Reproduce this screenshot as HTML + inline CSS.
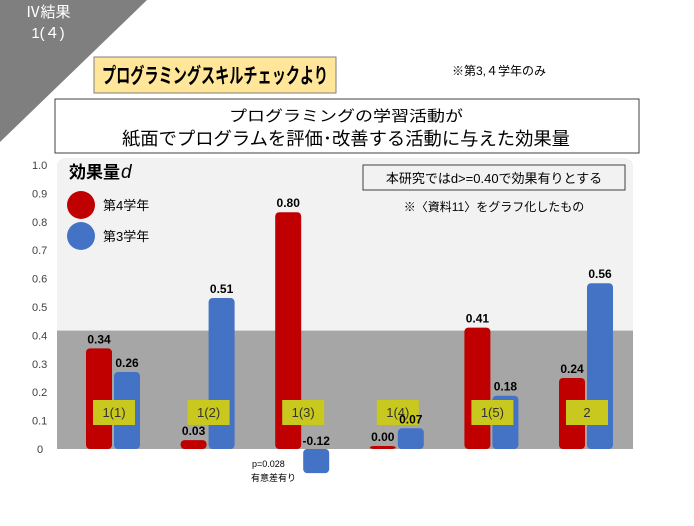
<!DOCTYPE html>
<html><head><meta charset="utf-8"><style>
body{margin:0;width:694px;height:521px;background:#fff;overflow:hidden;font-family:"Liberation Sans","Noto Sans CJK JP",sans-serif;}
svg text{font-family:"Liberation Sans","Noto Sans CJK JP",sans-serif;}
</style></head><body>
<svg width="694" height="521" viewBox="0 0 694 521">
<polygon points="0,0 147,0 0,142" fill="#7f7f7f"/>
<text x="48" y="17" font-size="15" fill="#fff" text-anchor="middle">Ⅳ結果</text>
<text x="48" y="38" font-size="15" fill="#fff" text-anchor="middle">1(４)</text>
<rect x="94" y="57" width="242" height="36" fill="#ffe699" stroke="#7f7f7f"/>
<text x="102" y="83" font-size="21" font-weight="bold" textLength="226" lengthAdjust="spacingAndGlyphs" fill="#000">プログラミングスキルチェックより</text>
<text x="452" y="75" font-size="12" fill="#000">※第3,４学年のみ</text>
<rect x="55" y="99" width="584" height="54" fill="#fff" stroke="#404040"/>
<text x="229" y="121" font-size="15" textLength="234" lengthAdjust="spacingAndGlyphs">プログラミングの学習活動が</text>
<text x="122" y="145" font-size="18" textLength="448" lengthAdjust="spacingAndGlyphs">紙面でプログラムを評価･改善する活動に与えた効果量</text>
<g id="chart"></g>
</svg>
<script>
const categories=["1(1)","1(2)","1(3)","1(4)","1(5)","2"];
const grade4=[0.34,0.03,0.80,0.00,0.41,0.24];
const grade3=[0.26,0.51,-0.12,0.07,0.18,0.56];
const yTicks=[0,0.1,0.2,0.3,0.4,0.5,0.6,0.7,0.8,0.9,1.0];
const threshold=0.4;
const NS="http://www.w3.org/2000/svg";
const g=document.getElementById("chart");
const y0=449, sc=296;
const yAx=v=>y0-v*sc;
const yTick=v=>165+(1-v)*284;
const xc=i=>113+i*94.6;
function mk(t,a){const e=document.createElementNS(NS,t);for(const k in a)e.setAttribute(k,a[k]);g.appendChild(e);return e;}
let e;
e=mk("rect",{x:57,y:158,width:576,height:y0-158,rx:8,fill:"#f2f2f2"});


e=mk("rect",{x:57,y:yAx(threshold),width:576,height:y0-yAx(threshold),fill:"#a6a6a6"});


yTicks.forEach(v=>{e=mk("text",{x:v===0?37:32,y:yTick(v)+4,"font-size":11,fill:"#404040"});e.textContent=v===0?"0":v.toFixed(1);

});
const labels=[];
function bar(v,xl,w,col,name){
 const neg=v<0;
 const h=neg?Math.abs(v)*sc*0.68:Math.max(v*sc,3);
 const top=neg?y0:y0-h;
 e=mk("rect",{x:xl,y:top,width:w,height:h,rx:4,fill:col});
 
 
 labels.push([v,xl+w/2,neg?y0-4:top-5]);
}
categories.forEach((c,i)=>{
 const cx=xc(i);
 bar(grade4[i],cx-27,26,"#c00000","bar-grade4");
 bar(grade3[i],cx+1,26,"#4472c4","bar-grade3");
});
categories.forEach((c,i)=>{
 const cx=xc(i);
 e=mk("rect",{x:cx-20,y:400,width:42,height:25,fill:"#c8c81e"});
 
 
 e=mk("text",{x:cx+1,y:417,"font-size":13,"text-anchor":"middle",fill:"#333"});
 e.textContent=c;
 
 
});
labels.forEach(l=>{
 e=mk("text",{x:l[1],y:l[2],"font-size":12,"font-weight":"bold","text-anchor":"middle"});
 e.textContent=l[0].toFixed(2);
 
 
});
e=mk("text",{x:252,y:467,"font-size":9});e.textContent="p=0.028";


e=mk("text",{x:251,y:481,"font-size":9});e.textContent="有意差有り";


e=mk("text",{x:69,y:178,"font-size":17,"font-weight":"bold"});e.textContent="効果量";


e=mk("text",{x:121,y:178,"font-size":19,"font-style":"italic"});e.textContent="d";


e=mk("circle",{cx:81,cy:205,r:14,fill:"#c00000"});


e=mk("text",{x:103,y:210,"font-size":13});e.textContent="第4学年";


e=mk("circle",{cx:81,cy:236,r:14,fill:"#4472c4"});


e=mk("text",{x:103,y:241,"font-size":13});e.textContent="第3学年";


e=mk("rect",{x:363,y:165,width:262,height:25,fill:"#f2f2f2",stroke:"#404040"});


e=mk("text",{x:494,y:183,"font-size":13,"text-anchor":"middle"});e.textContent="本研究ではd>=0.40で効果有りとする";


e=mk("text",{x:494,y:211,"font-size":12,"text-anchor":"middle"});e.textContent="※〈資料11〉をグラフ化したもの";


</script>
</body></html>
